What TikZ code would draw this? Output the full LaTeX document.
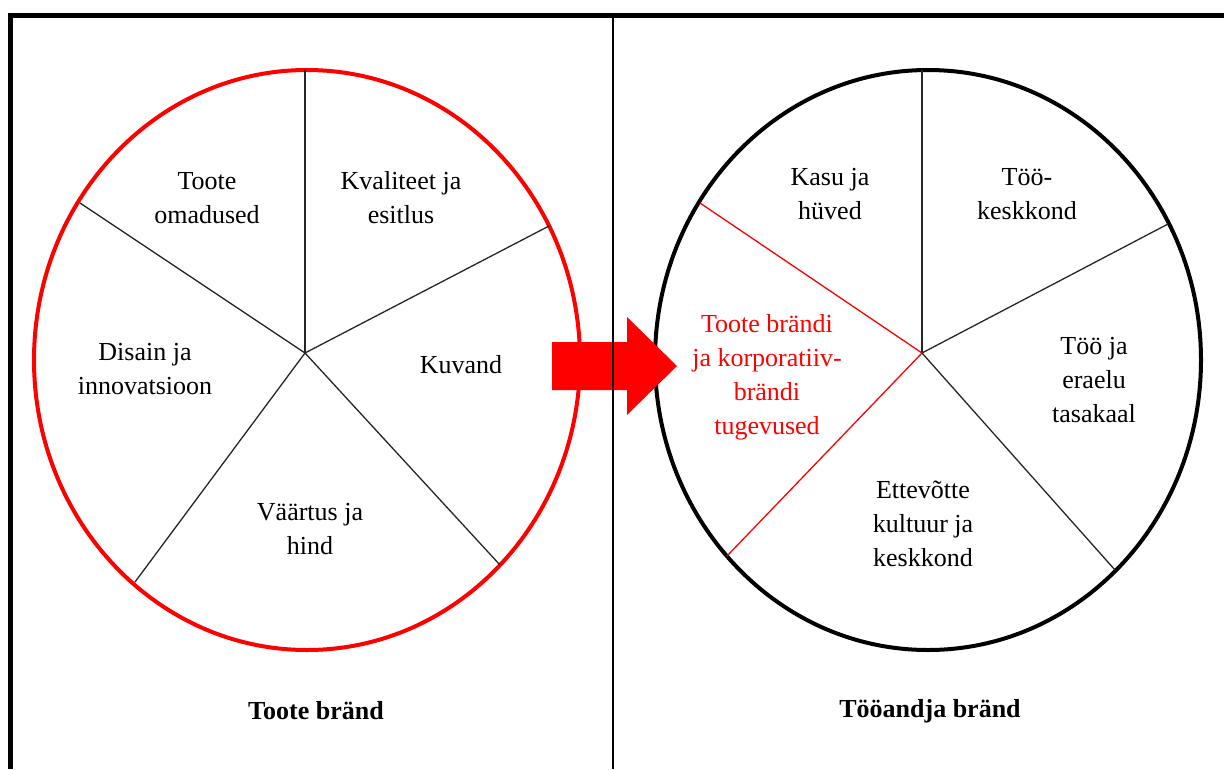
\documentclass[tikz,border=0pt]{standalone}
\usepackage{fontspec}
\setmainfont{Liberation Serif}
\begin{document}
\begin{tikzpicture}[x=1pt,y=-1pt,
  lbl/.style={align=center,inner sep=0pt,font=\fontsize{26}{34}\selectfont},
  title/.style={inner sep=0pt,font=\fontsize{26}{34}\selectfont\bfseries},
  spoke/.style={line width=1.3pt,black!85},
  redspoke/.style={line width=1.3pt,red},
  rim/.style={line width=4pt}]
\useasboundingbox (0,0) rectangle (1224,769);

% centres of the two wheels
\coordinate (cL) at (305,353);
\coordinate (cR) at (922,353);

% left wheel: product brand
\draw[rim,red] (307,360) ellipse [x radius=273,y radius=290];
\coordinate (l1) at (305,70);
\coordinate (l2) at (549,226);
\coordinate (l3) at (500,565);
\coordinate (l4) at (135,582);
\coordinate (l5) at (80,203);
\foreach \p in {l1,l2,l3,l4,l5} \draw[spoke] (cL) -- (\p);

% right wheel: employer brand
\draw[rim,black] (928,360) ellipse [x radius=273,y radius=290];
\coordinate (r1) at (922,70);
\coordinate (r2) at (1168,224);
\coordinate (r3) at (1115,570);
\coordinate (r4) at (727,556);
\coordinate (r5) at (700,203);
\foreach \p in {r1,r2,r3} \draw[spoke] (cR) -- (\p);
\foreach \p in {r4,r5} \draw[redspoke] (cR) -- (\p);

% block arrow between the wheels
\fill[red] (552,342) -- (627,342) -- (627,317) -- (677,366) -- (627,415)
  -- (627,390) -- (552,390) -- cycle;

% frame and divider
\draw[line width=1.5pt] (613,15) -- (613,769);
\draw[line width=5pt] (10,769) -- (10,15) -- (1224,15);

% left segment labels
\node[lbl] (t1) at (207,198) {Toote\\omadused};
\node[lbl] (t2) at (401,198) {Kvaliteet ja\\esitlus};
\node[lbl] (t3) at (145,369) {Disain ja\\innovatsioon};
\node[lbl] (t4) at (461,365) {Kuvand};
\node[lbl] (t5) at (310,529) {Väärtus ja\\hind};
\node[title] (tL) at (316,711) {Toote bränd};

% right segment labels
\node[lbl] (e1) at (830,194) {Kasu ja\\hüved};
\node[lbl] (e2) at (1027,194) {Töö-\\keskkond};
\node[lbl,text=red] (e3) at (767,377) {Toote brändi\\ja korporatiiv-\\brändi\\tugevused};
\node[lbl] (e4) at (1094,380) {Töö ja\\eraelu\\tasakaal};
\node[lbl] (e5) at (923,524) {Ettevõtte\\kultuur ja\\keskkond};
\node[title] (tR) at (930,711) {Tööandja bränd};
\end{tikzpicture}
\end{document}
